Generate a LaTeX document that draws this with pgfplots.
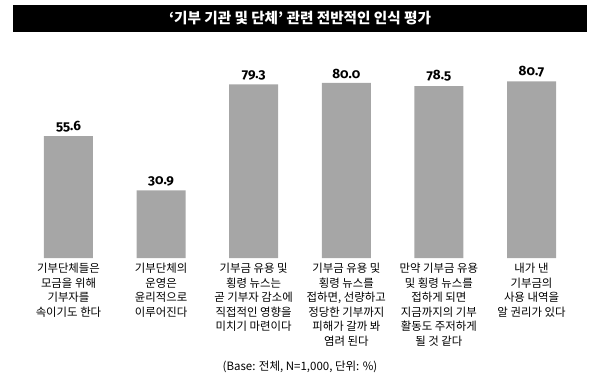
\documentclass[border=0pt]{standalone}
\usepackage{fontspec}
\setmainfont{Noto Sans CJK KR}
\newfontfamily\numfont[Numbers=OldStyle]{Fira Sans}
\usepackage{pgfplots}
\pgfplotsset{compat=1.18}
\definecolor{bargray}{HTML}{A6A6A6}
\begin{document}
\begin{tikzpicture}
\begin{axis}[
  scale only axis,
  width=600pt, height=384pt,
  xmin=-0.7397, xmax=5.7397,
  ymin=-57.53, ymax=117.81,
  axis x line=middle, axis y line=none,
  x axis line style={draw=none,-},
  xtick={0,1,2,3,4,5},
  xticklabels={
    {기부단체들은\\모금을 위해\\기부자를\\속이기도 한다},
    {기부단체의\\운영은\\윤리적으로\\이루어진다},
    {기부금 유용 및\\횡령 뉴스는\\곧 기부자 감소에\\직접적인 영향을\\미치기 마련이다},
    {기부금 유용 및\\횡령 뉴스를\\접하면, 선량하고\\정당한 기부까지\\피해가 갈까 봐\\염려 된다},
    {만약 기부금 유용\\및 횡령 뉴스를\\접하게 되면\\지금까지의 기부\\활동도 주저하게\\될 것 같다},
    {내가 낸\\기부금의\\사용 내역을\\알 권리가 있다}},
  x tick label style={align=center, font=\fontsize{11.4}{14.6}\selectfont, anchor=north, yshift=-1.5pt},
  major tick length=0pt,
  ytick=\empty,
  clip=false,
]
\fill[black] (rel axis cs:0.02167,0.91667) rectangle (rel axis cs:0.97833,0.98698);
\node[white, font=\fontsize{14.6}{16}\selectfont\bfseries] at (rel axis cs:0.5,0.9518) {‘기부 기관 및 단체’ 관련 전반적인 인식 평가};
\node[font=\fontsize{11.5}{13}\selectfont] at (rel axis cs:0.5,0.0443) {(Base: 전체, N=1,000, 단위: \%)};
\addplot[ybar, bar width=49pt, fill=bargray, draw=none,
  nodes near coords, point meta=explicit symbolic,
  every node near coord/.append style={font=\numfont\bfseries\fontsize{13.5}{14}\selectfont, black, yshift=1pt}]
  coordinates {(0,55.6)[55.6] (1,30.9)[30.9] (2,79.3)[79.3] (3,80.0)[80.0] (4,78.5)[78.5] (5,80.7)[80.7]};
\end{axis}
\pgfresetboundingbox
\path[use as bounding box] (current axis.south west) rectangle (current axis.north east);
\end{tikzpicture}
\end{document}
